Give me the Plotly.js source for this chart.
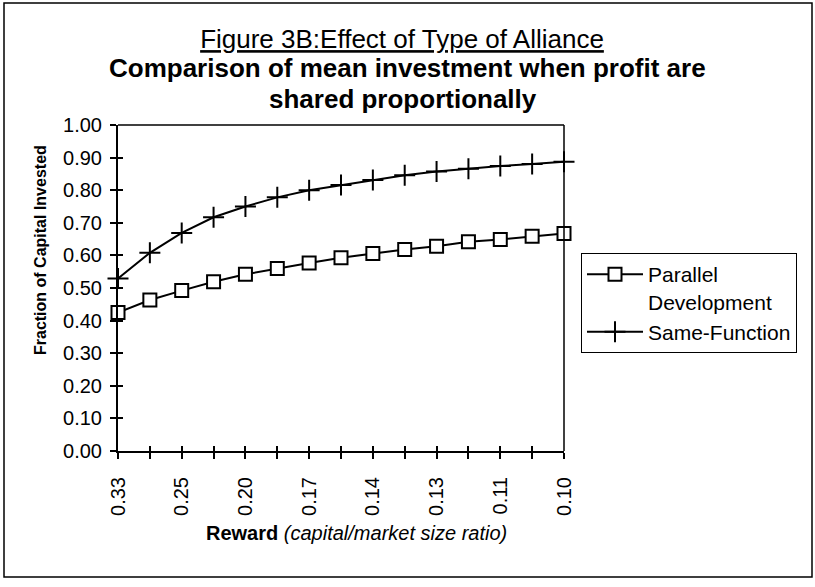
<!DOCTYPE html>
<html>
<head>
<meta charset="utf-8">
<script src="https://cdn.plot.ly/plotly-3.0.1.min.js"></script>
<style>
  html, body { margin: 0; padding: 0; background: #ffffff; }
  #chart { width: 815px; height: 587px; }
</style>
</head>
<body>
<div id="chart"></div>
<script>
// Reward (capital / market size ratio) for each of the 15 categories
const rewardLabels = ['0.33','0.29','0.25','0.22','0.20','0.18','0.17','0.15','0.14','0.13','0.13','0.12','0.11','0.11','0.10'];
// Fraction of capital invested
const parallelDevelopment = [0.425,0.463,0.492,0.519,0.542,0.560,0.577,0.593,0.606,0.618,0.628,0.642,0.649,0.659,0.667];
const sameFunction        = [0.529,0.608,0.669,0.717,0.750,0.778,0.800,0.816,0.831,0.846,0.857,0.866,0.874,0.880,0.887];
const seriesNames = ['Parallel<br>Development', 'Same-Function'];
const titleLines = ['Figure 3B:Effect of Type of Alliance', 'Comparison of mean investment when profit are', 'shared proportionally'];

const FONT = '"Liberation Sans", Arial, Helvetica, sans-serif';
const catIndex = rewardLabels.map((_, i) => i);
const tickText = rewardLabels.map((t, i) => (i % 2 === 0 ? t : ''));

// plot area in pixels: x 118..564, y 125..451
const px = x => (x - 118) / 446;
const py = y => (451 - y) / 326;

const traces = [
  {
    x: catIndex, y: parallelDevelopment, name: seriesNames[0],
    type: 'scatter', mode: 'lines+markers', cliponaxis: false,
    line: { color: '#000', width: 2 },
    marker: { symbol: 'square', size: 13, color: '#fff', line: { color: '#000', width: 2 } }
  },
  {
    x: catIndex, y: sameFunction, name: seriesNames[1],
    type: 'scatter', mode: 'lines+markers', cliponaxis: false,
    line: { color: '#000', width: 2 },
    marker: { symbol: 'cross-thin-open', size: 15, color: '#000', line: { color: '#000', width: 2 } }
  },
  { x: [], y: [], xaxis: 'x2', yaxis: 'y2', showlegend: false, hoverinfo: 'skip', type: 'scatter' }
];

const axisCommon = {
  showgrid: false, zeroline: false, showline: true, linecolor: '#000', linewidth: 2,
  tickcolor: '#000', tickwidth: 2, ticklen: 6,
  tickfont: { family: FONT, size: 20, color: '#000' }
};

const layout = {
  width: 815, height: 587,
  paper_bgcolor: '#fff', plot_bgcolor: '#fff',
  margin: { l: 118, r: 251, t: 125, b: 136 },
  font: { family: FONT, color: '#000' },
  title: {
    text: '<u>' + titleLines[0] + '</u>',
    font: { family: FONT, size: 26, color: '#000' },
    x: 402 / 815, xref: 'container', xanchor: 'center',
    y: 1 - 39 / 587, yref: 'container', yanchor: 'middle'
  },
  xaxis: Object.assign({}, axisCommon, {
    range: [0, 14], tickmode: 'array', tickvals: catIndex, ticktext: tickText,
    ticks: 'outside', tickangle: -90, ticklabelstandoff: 10, mirror: false
  }),
  yaxis: Object.assign({}, axisCommon, {
    range: [0, 1], dtick: 0.1, tick0: 0, tickformat: '.2f', ticks: 'outside', ticklabelstandoff: 4
  }),
  xaxis2: {
    overlaying: 'x', anchor: 'y2', side: 'bottom', range: [0, 14],
    tickmode: 'array', tickvals: catIndex, showticklabels: false,
    ticks: 'inside', ticklen: 5, tickwidth: 2, tickcolor: '#000',
    showgrid: false, zeroline: false, showline: false
  },
  yaxis2: {
    overlaying: 'y', anchor: 'x2', side: 'left', range: [0, 1], dtick: 0.1, tick0: 0,
    showticklabels: false, ticks: 'inside', ticklen: 5, tickwidth: 2, tickcolor: '#000',
    showgrid: false, zeroline: false, showline: false
  },
  showlegend: true,
  legend: {
    x: px(581), xanchor: 'left',
    y: py(253), yanchor: 'top',
    bordercolor: '#000', borderwidth: 1, bgcolor: '#fff',
    font: { family: FONT, size: 21, color: '#000' },
    itemwidth: 56, valign: 'top', tracegroupgap: 0
  },
  shapes: [
    { type: 'line', xref: 'paper', yref: 'paper', x0: 0, x1: 1, y0: 1, y1: 1, line: { color: '#000', width: 1.5 } },
    { type: 'line', xref: 'paper', yref: 'paper', x0: 1, x1: 1, y0: 0, y1: 1, line: { color: '#000', width: 1.5 } },
    { type: 'rect', xref: 'paper', yref: 'paper',
      x0: px(4), x1: px(812), y0: py(577), y1: py(3),
      line: { color: '#000', width: 1.5 } }
  ],
  annotations: [
    { text: '<b>' + titleLines[1] + '</b>',
      xref: 'paper', yref: 'paper', x: px(407), y: py(68),
      xanchor: 'center', yanchor: 'middle', showarrow: false,
      font: { family: FONT, size: 26, color: '#000' } },
    { text: '<b>' + titleLines[2] + '</b>',
      xref: 'paper', yref: 'paper', x: px(403), y: py(99),
      xanchor: 'center', yanchor: 'middle', showarrow: false,
      font: { family: FONT, size: 26, color: '#000' } },
    { text: '<b>Fraction of Capital Invested</b>', textangle: -90,
      xref: 'paper', yref: 'paper', x: px(40), y: py(250),
      xanchor: 'center', yanchor: 'middle', showarrow: false,
      font: { family: FONT, size: 16, color: '#000' } },
    { text: '<b>Reward</b> <i>(capital/market size ratio)</i>',
      xref: 'paper', yref: 'paper', x: px(356), y: py(533),
      xanchor: 'center', yanchor: 'middle', showarrow: false,
      font: { family: FONT, size: 20, color: '#000' } }
  ]
};

Plotly.newPlot('chart', traces, layout, { staticPlot: true, displayModeBar: false });
</script>
</body>
</html>
